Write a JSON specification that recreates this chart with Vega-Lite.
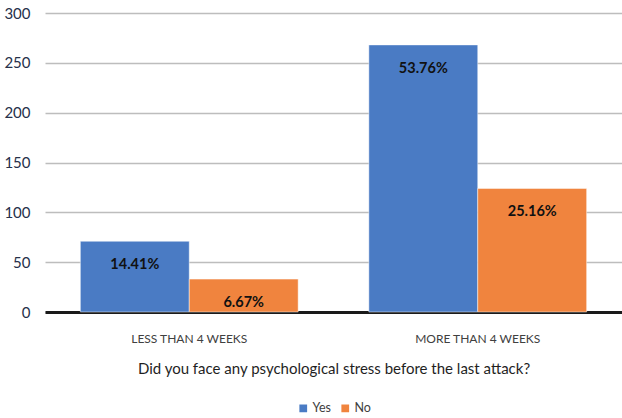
{
  "$schema": "https://vega.github.io/schema/vega-lite/v6.json",
  "autosize": {"type": "fit", "contains": "padding"},
  "width": 622,
  "height": 418,
  "padding": {"top": 6, "left": 0, "right": 0, "bottom": 3},
  "config": {
    "view": {"stroke": null},
    "font": "Lato, sans-serif",
    "legend": {"layout": {"bottom": {"anchor": "middle"}}}
  },
  "data": {
    "values": [
      {"period": "LESS THAN 4 WEEKS", "answer": "Yes", "count": 71, "pct": "14.41%"},
      {"period": "LESS THAN 4 WEEKS", "answer": "No", "count": 33, "pct": "6.67%"},
      {"period": "MORE THAN 4 WEEKS", "answer": "Yes", "count": 268, "pct": "53.76%"},
      {"period": "MORE THAN 4 WEEKS", "answer": "No", "count": 124, "pct": "25.16%"}
    ]
  },
  "encoding": {
    "x": {
      "field": "period", "type": "nominal",
      "scale": {"paddingInner": 0.245, "paddingOuter": 0.1225},
      "title": "Did you face any psychological stress before the last attack?",
      "axis": {
        "labelAngle": 0, "ticks": false, "labelPadding": 21,
        "labelFontSize": 12, "labelColor": "#404040",
        "domainColor": "#1a1a1a", "domainWidth": 3,
        "titleFontSize": 15, "titleFontWeight": "normal", "titleColor": "#1f1f1f",
        "titlePadding": 17
      }
    },
    "xOffset": {"field": "answer", "type": "nominal", "sort": ["Yes", "No"]},
    "y": {
      "field": "count", "type": "quantitative",
      "scale": {"domain": [0, 300]},
      "title": null,
      "axis": {
        "values": [0, 50, 100, 150, 200, 250, 300],
        "domain": false, "ticks": false, "labelPadding": 15,
        "labelFontSize": 15, "labelColor": "#26304a",
        "gridColor": "#bdbdbd", "gridWidth": 1.5,
        "minExtent": 45, "maxExtent": 45
      }
    }
  },
  "layer": [
    {
      "mark": {"type": "bar", "stroke": "#ffffff", "strokeWidth": 0.8, "strokeOpacity": 0.6},
      "encoding": {
        "color": {
          "field": "answer", "type": "nominal",
          "scale": {"domain": ["Yes", "No"], "range": ["#4a7bc4", "#f0843e"]},
          "legend": {
            "orient": "bottom", "direction": "horizontal", "title": null,
            "symbolType": "square", "symbolSize": 60, "symbolStrokeWidth": 0,
            "labelFontSize": 12.5, "labelColor": "#404040", "offset": 26,
            "columnPadding": 8, "labelOffset": 3
          }
        }
      }
    },
    {
      "mark": {"type": "text", "baseline": "middle", "dy": 24, "fontWeight": "bold", "fontSize": 14.5, "color": "#111111"},
      "encoding": {"text": {"field": "pct", "type": "nominal"}}
    }
  ]
}
